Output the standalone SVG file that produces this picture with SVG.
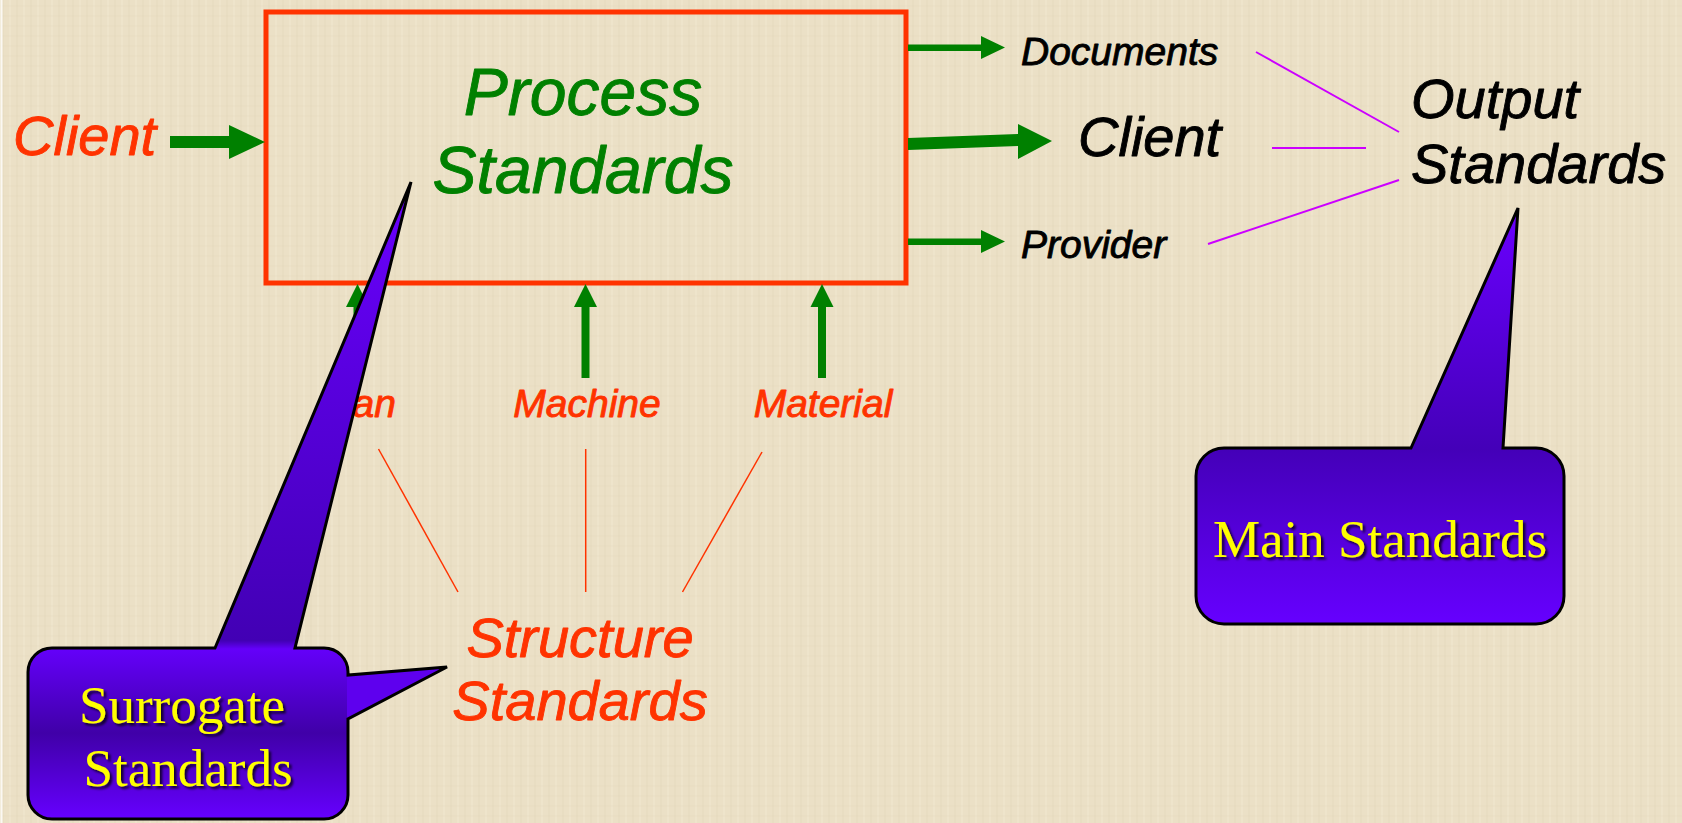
<svg xmlns="http://www.w3.org/2000/svg" width="1682" height="823" viewBox="0 0 1682 823">
<defs>
<style>
.sans{font-family:"Liberation Sans",Arial,sans-serif;font-style:italic;stroke-width:0.9;stroke-linejoin:round;}
.serif{font-family:"Liberation Serif","Times New Roman",serif;fill:#FFFF00;}
.green{fill:#008000;}
.tg{fill:#008000;stroke:#008000;}
.to{fill:#FF3300;stroke:#FF3300;}
.tb{fill:#000;stroke:#000;}
.mag{stroke:#CC00FF;stroke-width:2;fill:none;}
.thin{stroke:#FF3300;stroke-width:1.5;fill:none;}
.outline{fill:none;stroke:#000;stroke-width:3;stroke-linejoin:miter;}
</style>
<pattern id="tex" width="14" height="10" patternUnits="userSpaceOnUse">
<rect width="14" height="10" fill="#EBE0C6"/>
<line x1="3" y1="0" x2="3" y2="10" stroke="#D8CBAA" stroke-width="1" opacity="0.3"/>
<line x1="10" y1="0" x2="10" y2="10" stroke="#F6EEDC" stroke-width="1" opacity="0.5"/>
<line x1="0" y1="6" x2="14" y2="6" stroke="#D9CCAD" stroke-width="1" opacity="0.25"/>
</pattern>
<linearGradient id="gMain" gradientUnits="userSpaceOnUse" x1="0" y1="208" x2="0" y2="624">
<stop offset="0" stop-color="#6A00FF"/>
<stop offset="0.58" stop-color="#4400B8"/>
<stop offset="1" stop-color="#6600FF"/>
</linearGradient>
<linearGradient id="gSur" gradientUnits="userSpaceOnUse" x1="0" y1="182" x2="0" y2="819">
<stop offset="0" stop-color="#6A00FF"/>
<stop offset="0.72" stop-color="#4200B4"/>
<stop offset="0.733" stop-color="#6400FA"/>
<stop offset="0.865" stop-color="#4000A8"/>
<stop offset="1" stop-color="#6600FF"/>
</linearGradient>
<filter id="shadow" x="-10%" y="-20%" width="120%" height="140%">
<feDropShadow dx="2.5" dy="2.5" stdDeviation="1.2" flood-color="#000" flood-opacity="0.75"/>
</filter>
</defs>

<rect width="1682" height="823" fill="url(#tex)"/>
<line x1="1.5" y1="0" x2="1.5" y2="823" stroke="#FFFFFF" stroke-width="2" opacity="0.8"/>

<g id="process">
<rect x="266" y="12" width="640" height="271" fill="none" stroke="#FF3300" stroke-width="5"/>
<text class="sans tg" x="583" y="115" font-size="66" text-anchor="middle">Process</text>
<text class="sans tg" x="583" y="193" font-size="66" text-anchor="middle">Standards</text>
</g>

<g id="client-in">
<text class="sans to" x="13" y="155" font-size="56">Client</text>
</g>

<g id="documents"><text class="sans tb" x="1021" y="65" font-size="39">Documents</text></g>
<g id="client-out"><text class="sans tb" x="1078" y="156" font-size="56">Client</text></g>
<g id="provider"><text class="sans tb" x="1021" y="258" font-size="39">Provider</text></g>
<g id="output-standards">
<text class="sans tb" x="1411" y="118" font-size="56">Output</text>
<text class="sans tb" x="1411" y="183" font-size="56">Standards</text>
</g>

<g id="man"><text class="sans to" x="358" y="417" font-size="39" text-anchor="middle">Man</text></g>
<g id="machine"><text class="sans to" x="587" y="417" font-size="39" text-anchor="middle">Machine</text></g>
<g id="material"><text class="sans to" x="823" y="417" font-size="39" text-anchor="middle">Material</text></g>

<g id="structure-standards">
<text class="sans to" x="580" y="657" font-size="56" text-anchor="middle">Structure</text>
<text class="sans to" x="580" y="720" font-size="56" text-anchor="middle">Standards</text>
</g>

<g id="connectors">
<polygon class="green" points="170,136 229,136 229,125 265,142 229,159 229,148 170,148"/>
<polygon class="green" points="908,44.5 981,44.5 981,36 1005,47.5 981,59 981,51 908,51"/>
<polygon class="green" points="908,138 1018,134 1018,124 1052,141 1018,159 1018,146 908,150"/>
<polygon class="green" points="908,238.5 981,238.5 981,230 1005,241.5 981,253 981,245 908,245"/>
<polygon class="green" points="353.5,378 353.5,307 346,307 357.5,284 369,307 361.5,307 361.5,378"/>
<polygon class="green" points="581.5,378 581.5,307 574,307 585.5,284 597,307 589.5,307 589.5,378"/>
<polygon class="green" points="818,378 818,307 810.5,307 822,284 833.5,307 826,307 826,378"/>
<line class="mag" x1="1256" y1="52" x2="1399" y2="132"/>
<line class="mag" x1="1272" y1="148" x2="1366" y2="148"/>
<line class="mag" x1="1208" y1="244" x2="1399" y2="180"/>
<line class="thin" x1="378.5" y1="449" x2="458" y2="592"/>
<line class="thin" x1="585.7" y1="449" x2="585.7" y2="592"/>
<line class="thin" x1="762" y1="452" x2="682.5" y2="592"/>
</g>

<g id="main-standards">
<path d="M1411,448 L1518,208 L1503,448 L1536,448 A28,28 0 0 1 1564,476 L1564,596 A28,28 0 0 1 1536,624 L1224,624 A28,28 0 0 1 1196,596 L1196,476 A28,28 0 0 1 1224,448 Z" fill="url(#gMain)"/>
<path class="outline" d="M1411,448 L1518,208 L1503,448 L1536,448 A28,28 0 0 1 1564,476 L1564,596 A28,28 0 0 1 1536,624 L1224,624 A28,28 0 0 1 1196,596 L1196,476 A28,28 0 0 1 1224,448 Z"/>
<text class="serif" x="1380" y="557" font-size="53" text-anchor="middle" filter="url(#shadow)">Main Standards</text>
</g>

<g id="surrogate-standards">
<path d="M215,648 L411,182 L295,648 L324,648 A24,24 0 0 1 348,672 L348,675 L447,667 L348,719 L348,795 A24,24 0 0 1 324,819 L52,819 A24,24 0 0 1 28,795 L28,672 A24,24 0 0 1 52,648 Z" fill="url(#gSur)"/>
<polygon points="347,675 447,667 347,719" fill="#5E00EE"/>
<path class="outline" d="M215,648 L411,182 L295,648 L324,648 A24,24 0 0 1 348,672 L348,675 L447,667 L348,719 L348,795 A24,24 0 0 1 324,819 L52,819 A24,24 0 0 1 28,795 L28,672 A24,24 0 0 1 52,648 Z"/>
<text class="serif" x="182" y="723" font-size="53" text-anchor="middle" filter="url(#shadow)">Surrogate</text>
<text class="serif" x="188" y="786" font-size="53" text-anchor="middle" filter="url(#shadow)">Standards</text>
</g>
</svg>
